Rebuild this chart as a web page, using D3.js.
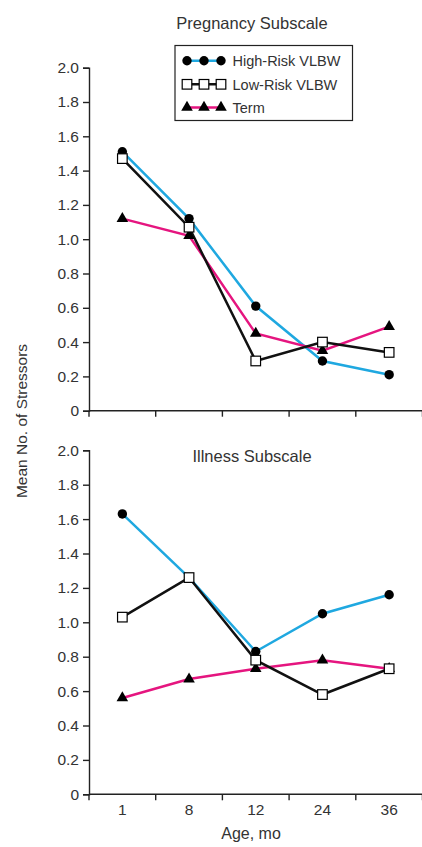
<!DOCTYPE html>
<html>
<head>
<meta charset="utf-8">
<script src="https://cdn.jsdelivr.net/npm/d3@7"></script>
<style>
  body { margin: 0; background: #fff; }
  text { font-family: "Liberation Sans", Arial, sans-serif; fill: #333; }
</style>
</head>
<body>
<div id="chart"></div>
<script>
var ages = ["1", "8", "12", "24", "36"];
var yTicks = [0, 0.2, 0.4, 0.6, 0.8, 1.0, 1.2, 1.4, 1.6, 1.8, 2.0];
var seriesNames = ["High-Risk VLBW", "Low-Risk VLBW", "Term"];

// pregnancy subscale
var pregHigh = [1.51, 1.12, 0.61, 0.29, 0.21];
var pregLow = [1.47, 1.07, 0.29, 0.40, 0.34];
var pregTerm = [1.12, 1.02, 0.45, 0.35, 0.49];

// illness subscale
var illHigh = [1.63, 1.26, 0.83, 1.05, 1.16];
var illLow = [1.03, 1.26, 0.78, 0.58, 0.73];
var illTerm = [0.56, 0.67, 0.73, 0.78, 0.73];

var blue = "#1fa8e0", pink = "#e5157f", ink = "#222";

var width = 422, height = 847;
var svg = d3.select("#chart").append("svg")
  .attr("width", width)
  .attr("height", height);

var x = d3.scaleBand().domain(ages).range([89, 422.5]);

function panel(top, bottom, title, titleY, high, low, term, showX) {
  var y = d3.scaleLinear().domain([0, 2]).range([bottom, top]);
  var g = svg.append("g");

  g.append("g")
    .attr("transform", "translate(89,0)")
    .call(d3.axisLeft(y).tickValues(yTicks).tickSize(6).tickPadding(4)
      .tickFormat(function(d){ return d === 0 ? "0" : d3.format(".1f")(d); }))
    .call(function(a){
      a.select(".domain").attr("stroke", ink).attr("stroke-width", 1.4);
      a.selectAll("line").attr("stroke", ink).attr("stroke-width", 1.4);
      a.selectAll("text").style("font-size", "15.5px").attr("fill", "#333")
        .style("font-family", "'Liberation Sans', Arial, sans-serif");
    });

  // x axis with ticks on band boundaries
  var xa = g.append("g").attr("transform", "translate(0," + bottom + ")");
  xa.append("line").attr("x1", 89).attr("x2", 422.5)
    .attr("stroke", ink).attr("stroke-width", 1.4);
  xa.selectAll(".bt").data(ages.concat(["end"])).enter().append("line")
    .attr("x1", function(d, i){ return 89 + i * x.bandwidth(); })
    .attr("x2", function(d, i){ return 89 + i * x.bandwidth(); })
    .attr("y1", 0).attr("y2", 6)
    .attr("stroke", ink).attr("stroke-width", 1.4);
  if (showX) {
    xa.selectAll(".lbl").data(ages).enter().append("text")
      .attr("x", function(d){ return x(d) + x.bandwidth() / 2; })
      .attr("y", 21)
      .attr("text-anchor", "middle")
      .style("font-size", "15.5px")
      .text(function(d){ return d; });
  }

  g.append("text")
    .attr("x", 252).attr("y", titleY)
    .attr("text-anchor", "middle")
    .style("font-size", "16.5px")
    .text(title);

  var line = d3.line()
    .x(function(d, i){ return x(ages[i]) + x.bandwidth() / 2; })
    .y(function(d){ return y(d); });

  var series = [
    { vals: high, color: blue, mark: "circle" },
    { vals: term, color: pink, mark: "triangle" },
    { vals: low, color: "#111", mark: "square" }
  ];
  series.forEach(function(s){
    g.append("path").attr("d", line(s.vals))
      .attr("fill", "none").attr("stroke", s.color).attr("stroke-width", 2.5);
  });
  series.forEach(function(s){
    s.vals.forEach(function(v, i){
      marker(g, x(ages[i]) + x.bandwidth() / 2, y(v), s.mark);
    });
  });
}

function marker(g, cx, cy, kind) {
  if (kind === "circle") {
    g.append("circle").attr("cx", cx).attr("cy", cy).attr("r", 4.7).attr("fill", "#000");
  } else if (kind === "square") {
    g.append("rect").attr("x", cx - 4.8).attr("y", cy - 4.8)
      .attr("width", 9.6).attr("height", 9.6)
      .attr("fill", "#fff").attr("stroke", "#000").attr("stroke-width", 1.2);
  } else {
    var sym = d3.symbol().type(d3.symbolTriangle).size(58);
    g.append("path").attr("d", sym())
      .attr("transform", "translate(" + cx + "," + cy + ")")
      .attr("fill", "#000");
  }
}

panel(67.7, 410.7, "Pregnancy Subscale", 29, pregHigh, pregLow, pregTerm, false);
panel(450.3, 794.3, "Illness Subscale", 462, illHigh, illLow, illTerm, true);

// legend
var leg = svg.append("g");
leg.append("rect").attr("x", 175).attr("y", 45.5)
  .attr("width", 177.5).attr("height", 75)
  .attr("fill", "#fff").attr("stroke", ink).attr("stroke-width", 1.2);
var legColors = [blue, "#111", pink];
var legMarks = ["circle", "square", "triangle"];
var legY = [60.7, 84.3, 107.5];
seriesNames.forEach(function(n, i){
  leg.append("line").attr("x1", 187).attr("x2", 221)
    .attr("y1", legY[i]).attr("y2", legY[i])
    .attr("stroke", legColors[i]).attr("stroke-width", 2.5);
  [187, 204, 221].forEach(function(px){ marker(leg, px, legY[i], legMarks[i]); });
  leg.append("text").attr("x", 232.5).attr("y", legY[i] + 5.3)
    .style("font-size", "14.5px").text(n);
});

// axis titles
svg.append("text")
  .attr("transform", "translate(26.5,421) rotate(-90)")
  .attr("text-anchor", "middle")
  .style("font-size", "15.5px")
  .text("Mean No. of Stressors");
svg.append("text")
  .attr("x", 251).attr("y", 839)
  .attr("text-anchor", "middle")
  .style("font-size", "16px")
  .text("Age, mo");
</script>
</body>
</html>
